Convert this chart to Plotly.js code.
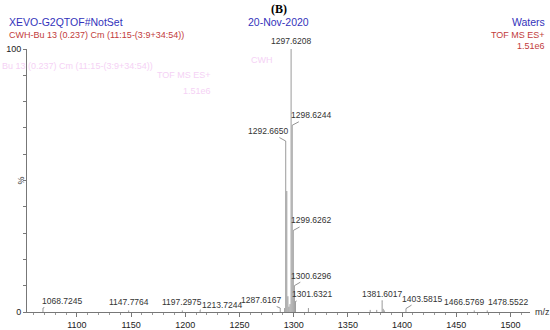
<!DOCTYPE html>
<html>
<head>
<meta charset="utf-8">
<script src="https://cdn.plot.ly/plotly-3.0.1.min.js"></script>
<style>html,body{margin:0;padding:0;background:#fff}#chart{width:550px;height:330px}</style>
</head>
<body>
<div id="chart"></div>
<script>
// Labelled peaks (m/z, relative intensity %)
const peakMz = [1068.7245, 1147.7764, 1197.2975, 1213.7244, 1287.6167, 1292.6650, 1297.6208, 1298.6244, 1299.6262, 1300.6296, 1301.6321, 1381.6017, 1403.5815, 1466.5769, 1478.5522];
const peakInt = [1.5, 0.6, 0.6, 0.8, 1.5, 65, 100, 71, 31, 10, 4, 3.5, 1.3, 0.6, 0.6];
// Unlabelled peaks
const minorMz = [1291.66, 1293.67, 1294.67, 1295.6, 1296.6, 1313.6, 1370.6, 1376.6, 1382.6, 1383.6];
const minorInt = [1.5, 46, 6, 2, 3, 1.5, 0.8, 0.8, 1.2, 0.6];
// Label leader offsets in pixels (ax, ay); null = label sits straight above
const labelDx = [19, null, null, 22, -19, -18, null, 19, 18, 17, 17, 0, 16, null, null];
const labelDy = [-7, null, null, -5, -8, -10, null, -10, -10, -10, -7, -9, -10, null, null];
// horizontal anchoring for labels that sit straight above
const labelAnchor = ['center', 'center', 'center', 'center', 'center', 'center', 'center', 'center', 'center', 'center', 'center', 'center', 'center', 'right', 'left'];
const labelShift = [0, 0, 0, 0, 0, 0, 0, 0, 0, 0, 0, 0, 0, 12, -1];

const xs = [], ys = [];
function addSticks(mz, it) {
  for (let i = 0; i < mz.length; i++) { xs.push(mz[i], mz[i], null); ys.push(0, it[i], null); }
}
addSticks(minorMz, minorInt);
addSticks(peakMz, peakInt);

const trace = {
  type: 'scatter', mode: 'lines', x: xs, y: ys, connectgaps: false,
  line: {color: '#9a9a9a', width: 1}, hoverinfo: 'skip'
};

const labelFont = {family: 'Liberation Sans, Arial, sans-serif', size: 8.5, color: '#333'};
const ann = [];
for (let i = 0; i < peakMz.length; i++) {
  const t = peakMz[i].toFixed(4);
  if (labelDx[i] === null) {
    ann.push({x: peakMz[i], y: peakInt[i], xref: 'x', yref: 'y', text: t, showarrow: false,
      xanchor: labelAnchor[i], xshift: labelShift[i], yanchor: 'bottom', yshift: 1, font: labelFont});
  } else {
    ann.push({x: peakMz[i], y: peakInt[i], xref: 'x', yref: 'y', text: t, showarrow: true,
      arrowhead: 0, arrowwidth: 0.8, arrowcolor: '#777', ax: labelDx[i], ay: labelDy[i],
      font: labelFont, standoff: 0});
  }
}
const blue = '#3333bb', red = '#c23b3b', ghost = '#f5d2f5';
const hf = 'Liberation Sans, Arial, sans-serif';
function txt(x, yshift, xanchor, xshift, text, font, extra) {
  return Object.assign({xref: 'paper', yref: 'paper', x: x, y: 1, xanchor: xanchor, yanchor: 'middle',
    showarrow: false, xshift: xshift, yshift: yshift, text: text, font: font}, extra || {});
}
ann.push(
  txt(0.5, 40, 'center', 0, '<b>(B)</b>', {family: 'Liberation Serif, Times New Roman, serif', size: 12, color: '#000'}),
  txt(0, 27, 'left', -20, 'XEVO-G2QTOF#NotSet', {family: hf, size: 10.5, color: blue}),
  txt(0.5, 27, 'center', 0, '20-Nov-2020', {family: hf, size: 10.5, color: blue}),
  txt(1, 27, 'right', 17, 'Waters', {family: hf, size: 10.5, color: blue}),
  txt(0, 14, 'left', -20, 'CWH-Bu 13 (0.237) Cm (11:15-(3:9+34:54))', {family: hf, size: 9, color: red}),
  txt(1, 14, 'right', 17, 'TOF MS ES+', {family: hf, size: 9, color: red}),
  txt(1, 3, 'right', 17, '1.51e6', {family: hf, size: 9, color: red}),
  // faint ghost texts
  txt(0, -17, 'left', -27, 'Bu 13 (0.237) Cm (11:15-(3:9+34:54))', {family: hf, size: 9, color: ghost}),
  txt(0.312, -26, 'center', 0, 'TOF MS ES+', {family: hf, size: 9, color: ghost}),
  txt(0.337, -42, 'center', 0, '1.51e6', {family: hf, size: 9, color: ghost}),
  txt(0.468, -11, 'center', 0, 'CWH', {family: hf, size: 9, color: ghost}),
  // axis labels
  {xref: 'paper', yref: 'paper', x: 0, y: 0.5, xanchor: 'center', yanchor: 'middle', showarrow: false,
   xshift: -7, textangle: -90, text: '%', font: {family: hf, size: 9, color: '#333'}},
  {xref: 'paper', yref: 'paper', x: 1, y: 0, xanchor: 'left', yanchor: 'middle', showarrow: false,
   xshift: 3, text: 'm/z', font: {family: hf, size: 9, color: '#333'}}
);

const layout = {
  width: 550, height: 330,
  margin: {l: 27, r: 20, t: 49, b: 18},
  paper_bgcolor: '#fff', plot_bgcolor: '#fff',
  showlegend: false,
  xaxis: {
    range: [1054, 1518], showgrid: false, zeroline: false,
    showline: true, linecolor: '#777', linewidth: 1,
    tickmode: 'linear', tick0: 1100, dtick: 50,
    ticks: 'outside', ticklen: 4, tickcolor: '#777', tickwidth: 1,
    minor: {dtick: 10, ticks: 'outside', ticklen: 2, tickcolor: '#999'},
    tickfont: {family: hf, size: 9, color: '#222'}
  },
  yaxis: {
    range: [0, 100], showgrid: false, zeroline: false,
    showline: true, linecolor: '#777', linewidth: 1,
    tickmode: 'array', tickvals: [0, 10, 20, 30, 40, 50, 60, 70, 80, 90, 100],
    ticktext: ['0', '', '', '', '', '', '', '', '', '', '100'],
    ticks: 'outside', ticklen: 3, tickcolor: '#777',
    tickfont: {family: hf, size: 9, color: '#222'}
  },
  annotations: ann
};

Plotly.newPlot('chart', [trace], layout, {staticPlot: true, displayModeBar: false});
</script>
</body>
</html>
